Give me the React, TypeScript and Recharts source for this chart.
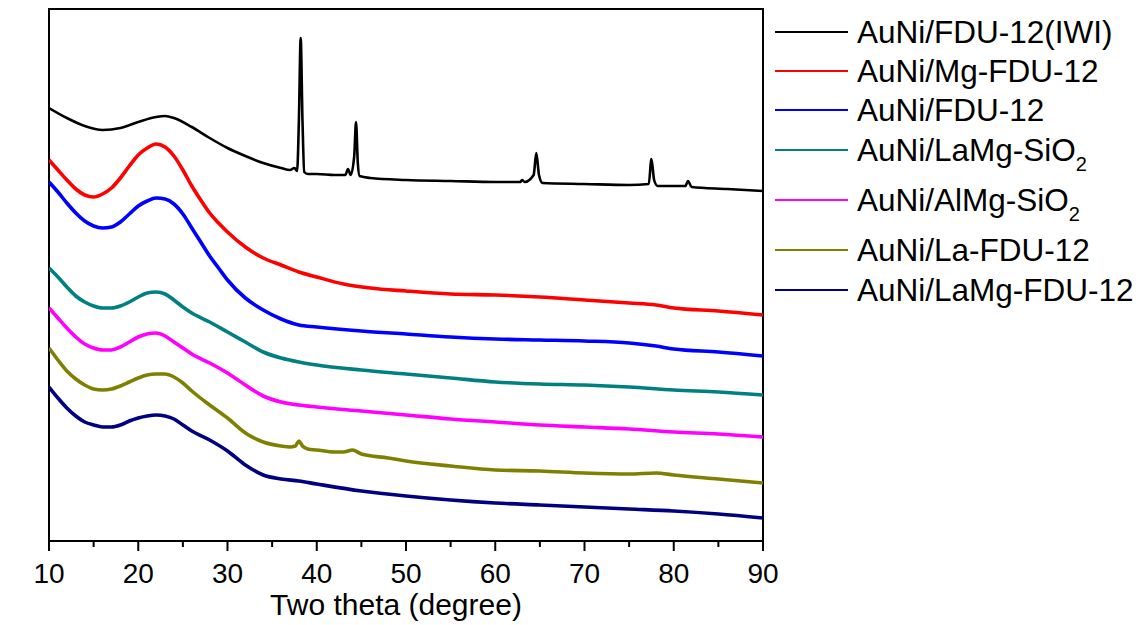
import React from 'react';
import { LineChart, Line, XAxis, YAxis, ReferenceArea, Legend } from 'recharts';

const FONT = '"Liberation Sans", Arial, Helvetica, sans-serif';

// Two theta (degree) and intensity (a.u.), curves offset as in the original
const xIWI = [10, 12, 14, 16, 18, 20, 22, 23, 24, 26, 28, 30, 32, 34, 36, 37, 37.5, 37.8, 38.0, 38.2, 38.4, 38.6, 39, 40, 42, 43.2, 43.5, 43.8, 44.2, 44.4, 44.6, 44.8, 46, 50, 55, 60, 62.8, 63.0, 63.3, 64.3, 64.6, 64.9, 65.3, 70, 75, 77.2, 77.5, 77.8, 78.2, 81.3, 81.6, 82, 86, 90];
const yIWI = [433, 423, 415, 411, 413, 419, 424, 425, 423, 414, 403, 393, 385, 378, 373, 371, 373, 370, 421, 503, 421, 369, 367, 367, 366, 366, 372, 366, 385, 419, 378, 365, 363, 361, 360, 359, 359, 361, 359, 366, 388, 366, 358, 357, 356, 357, 382, 361, 355, 355, 360, 354, 352, 350];

const xMg = [10, 11, 12, 13, 14, 15, 16, 17, 18, 19, 20, 21, 22, 23, 24, 25, 26, 27, 28, 29, 30, 32, 34, 36, 38, 40, 43, 46, 50, 55, 60, 65, 70, 75, 78, 80, 85, 90];
const yMg = [381, 371, 361, 352, 346, 344, 347, 353, 363, 375, 386, 393, 397, 394, 385, 371, 355, 341, 328, 318, 309, 294, 283, 276, 269, 264, 257, 253, 250, 247, 246, 244, 241, 238, 236, 233, 230, 226];

const xFDU = [10, 11, 12, 13, 14, 15, 16, 17, 18, 19, 20, 21, 22, 23, 24, 25, 26, 27, 28, 29, 30, 32, 34, 36, 38, 40, 45, 50, 55, 60, 65, 70, 75, 78, 80, 85, 90];
const yFDU = [359, 349, 338, 328, 320, 315, 313, 314, 319, 327, 335, 340, 343, 342, 337, 327, 313, 299, 285, 273, 261, 243, 231, 222, 216, 214, 210, 207, 204, 202, 201, 200, 198, 195, 192, 189, 185];

const xLaMgSi = [10, 11, 12, 13, 14, 15, 16, 17, 18, 19, 20, 21, 22, 23, 24, 25, 26, 28, 30, 32, 34, 36, 38, 40, 45, 50, 55, 60, 65, 70, 75, 80, 85, 90];
const yLaMgSi = [273, 264, 254, 245, 239, 235, 233, 233, 235, 239, 244, 248, 249, 247, 241, 234, 228, 219, 209, 199, 189, 183, 179, 176, 171, 167, 163, 159, 157, 156, 154, 151, 149, 146];

const xAlMgSi = [10, 11, 12, 13, 14, 15, 16, 17, 18, 19, 20, 21, 22, 23, 24, 25, 26, 28, 30, 32, 34, 36, 38, 40, 45, 50, 55, 60, 65, 70, 75, 80, 85, 90];
const yAlMgSi = [233, 223, 213, 204, 197, 193, 191, 191, 194, 199, 204, 207, 208, 205, 199, 193, 187, 178, 168, 156, 145, 139, 136, 134, 130, 126, 122, 119, 116, 114, 112, 109, 107, 104];

const xLa = [10, 11, 12, 13, 14, 15, 16, 17, 18, 19, 20, 21, 22, 23, 24, 25, 26, 28, 30, 32, 34, 36, 37, 37.6, 38, 38.4, 39, 40, 42, 43, 44, 45, 48, 50, 55, 60, 65, 70, 75, 78, 80, 85, 90];
const yLa = [193, 181, 170, 162, 156, 152, 151, 152, 155, 159, 163, 166, 167, 167, 164, 158, 150, 136, 123, 108, 99, 95, 94, 95, 100, 95, 92, 91, 89, 89, 91, 87, 83, 80, 75, 71, 70, 68, 67, 68, 66, 62, 58];

const xLaMg = [10, 11, 12, 13, 14, 15, 16, 17, 18, 19, 20, 21, 22, 23, 24, 25, 26, 28, 30, 32, 34, 36, 38, 40, 45, 50, 55, 60, 65, 70, 75, 80, 85, 90];
const yLaMg = [154, 143, 133, 125, 119, 116, 114, 114, 116, 120, 123, 125, 126, 125, 122, 116, 110, 101, 90, 76, 66, 62, 60, 57, 50, 45, 41, 38, 36, 34, 32, 30, 27, 23];

const seriesNames = ['AuNi/FDU-12(IWI)', 'AuNi/Mg-FDU-12', 'AuNi/FDU-12', 'AuNi/LaMg-SiO2', 'AuNi/AlMg-SiO2', 'AuNi/La-FDU-12', 'AuNi/LaMg-FDU-12'];
const seriesColors = ['#000000', '#FF0000', '#0000FF', '#008080', '#FF00FF', '#808000', '#000080'];
const seriesX = [xIWI, xMg, xFDU, xLaMgSi, xAlMgSi, xLa, xLaMg];
const seriesY = [yIWI, yMg, yFDU, yLaMgSi, yAlMgSi, yLa, yLaMg];

const xTicks = [10, 15, 20, 25, 30, 35, 40, 45, 50, 55, 60, 65, 70, 75, 80, 85, 90];

const series = seriesNames.map((name, i) => ({
  name,
  color: seriesColors[i],
  data: seriesX[i].map((x, j) => ({ x, y: seriesY[i][j] })),
}));

const XTick = (props: any) => {
  const { x, y, payload } = props;
  const major = payload.value % 10 === 0;
  return (
    <g>
      <line x1={x} x2={x} y1={y} y2={y + (major ? 10 : 6)} stroke="#000" strokeWidth={2} />
      {major && (
        <text x={x} y={y + 42} textAnchor="middle" fontSize={28} fontFamily={FONT} fill="#000">
          {payload.value}
        </text>
      )}
    </g>
  );
};

const renderName = (name: string) => {
  if (name.endsWith('SiO2')) {
    return (
      <>
        {name.slice(0, -1)}
        <tspan fontSize={20} dy={10}>2</tspan>
      </>
    );
  }
  return name;
};

const rowY = [32, 71, 110, 150, 200, 250, 290];

const LegendContent = () => (
  <svg width={378} height={320} style={{ display: 'block' }}>
    {series.map((s, i) => (
      <g key={s.name}>
        <line x1={5} x2={78} y1={rowY[i]} y2={rowY[i]} stroke={s.color} strokeWidth={2} />
        <text x={87} y={rowY[i] + 11} fontSize={31.5} fontFamily={FONT} fill="#000">
          {renderName(s.name)}
        </text>
      </g>
    ))}
  </svg>
);

const XTitle = (props: any) => {
  const vb = props.viewBox || {};
  return (
    <text x={vb.x + vb.width / 2 - 10} y={615} textAnchor="middle" fontSize={30} fontFamily={FONT} fill="#000">
      Two theta (degree)
    </text>
  );
};

const YTitle = (props: any) => {
  const vb = props.viewBox || {};
  const cy = vb.y + vb.height / 2;
  return (
    <text x={30} y={cy} transform={`rotate(-90, 30, ${cy})`} textAnchor="middle" dominantBaseline="central" fontSize={30} fontFamily={FONT} fill="#000">
      Intensity (a.u.)
    </text>
  );
};

export default function App() {
  return (
    <div style={{ position: 'absolute', left: 0, top: 0, width: 1148, height: 625, background: '#fff' }}>
      <LineChart width={1148} height={625} margin={{ top: 9, right: 385, bottom: 0, left: 49 }}>
        <XAxis
          dataKey="x"
          type="number"
          domain={[10, 90]}
          ticks={xTicks}
          interval={0}
          allowDataOverflow
          axisLine={false}
          tickLine={false}
          tickSize={0}
          tickMargin={0}
          height={84}
          tick={<XTick />}
          label={<XTitle />}
        />
        <YAxis
          type="number"
          domain={[0, 532]}
          allowDataOverflow
          width={0}
          tick={false}
          axisLine={false}
          tickLine={false}
          label={<YTitle />}
        />
        {series.map((s) => (
          <Line
            key={s.name}
            data={s.data}
            dataKey="y"
            name={s.name}
            type="monotone"
            stroke={s.color}
            strokeWidth={s.color === '#000000' ? 2.6 : 3.6}
            strokeLinejoin="round"
            dot={false}
            activeDot={false}
            isAnimationActive={false}
          />
        ))}
        <ReferenceArea x1={10} x2={90} y1={0} y2={532} fill="none" stroke="#000" strokeWidth={2} ifOverflow="visible" />
        <Legend
          layout="horizontal"
          verticalAlign="middle"
          align="center"
          content={<LegendContent />}
          wrapperStyle={{ left: 770, top: 0, width: 378, height: 320 }}
        />
      </LineChart>
    </div>
  );
}
